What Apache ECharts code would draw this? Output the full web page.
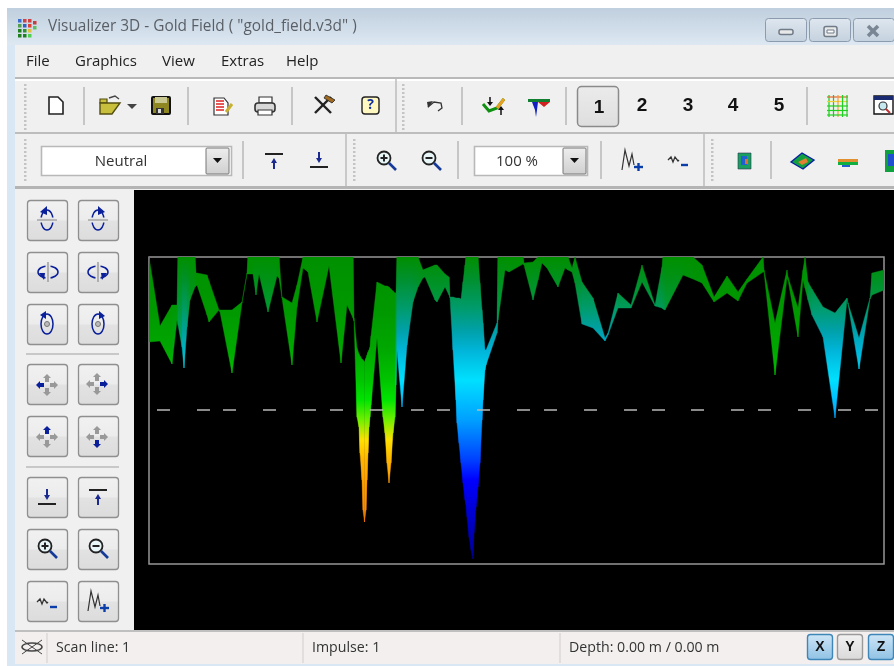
<!DOCTYPE html>
<html><head><meta charset="utf-8">
<style>html,body{margin:0;padding:0;background:#fff;overflow:hidden}#c{width:894px;height:666px}</style>
<script src="https://cdn.jsdelivr.net/npm/echarts@6/dist/echarts.min.js"></script>
</head><body><div id="c"></div>
<script>
// ---- chart data (trace position along the scan line, depth below the surface) ----
const traceX = [
0,11,23,28,29,33,35,38,41,46,
47,48,58,60,70,71,83,93,98,99,
104,107,110,119,128,130,133,143,148,154,
159,168,180,192,198,204,205,208,210,211,
213,214,215.5,217,218,219,220,221,222,228,
234,236,238,240,242,244,246,247,248,253,
258,264,269,274,276,286,288,296,300,301,
304,307,308,310,312,314,316,317,318,320,
322,324,325,327,329,331,333,334,336,337,
348,349,356,360,374,375,384,389,393,398,
409,416,419,423,426,433,444,456,459,469,
482,493,506,513,514,516,534,544,553,565,
578,589,598,614,615,626,638,639,649,654,
656,659,663,674,686,698,699,710,721,723,
735];
const upperDepth = [
0,69,48,48,0,0,0,0,0,0,
16,16,18,24,53,53,53,45,16,0,
0,0,0,0,0,0,40,46,28,0,
0,0,0,0,0,0,61,91,97,99,
102,103,105,101,98,95,93,90,79,25,
28,29,29,30,32,34,36,36,0,0,
0,0,0,13,12,8,8,17,20,40,
40,41,41,41,42,25,8,0,0,0,
0,0,0,0,0,26,53,66,93,93,
66,0,0,0,0,6,5,0,0,0,
0,0,0,11,0,25,41,81,76,36,
48,8,48,10,0,0,0,0,8,40,
19,35,22,0,13,66,13,20,51,13,
0,25,32,50,56,41,46,81,41,16,
13];
const lowerDepth = [
85,84,107,63,68,90,111,70,43,30,
29,28,58,65,53,55,116,46,17,17,
17,38,17,55,19,21,41,108,50,11,
15,65,9,106,48,61,64,160,170,196,
223,253,265,253,223,196,170,160,148,81,
160,176,206,226,206,176,160,128,93,150,
88,45,30,21,20,43,45,30,38,41,
93,143,166,186,206,226,243,248,260,280,
293,302,276,250,230,206,163,143,113,108,
76,63,13,15,7,8,43,23,6,11,
30,11,13,15,26,67,71,84,78,51,
51,25,49,51,52,53,18,22,26,45,
36,44,26,15,15,118,21,23,80,23,
31,43,58,80,161,43,47,112,42,38,
33];
const toneMix = [
0,0,0,.1,.3,.8,1,.8,.5,.2,
0,0,0,0,0,0,0,0,0,0,
.3,.7,.3,.6,.3,0,0,0,0,0,
0,0,0,0,0,0,0,0,0,0,
0,0,0,0,0,0,0,0,0,0,
0,0,0,0,0,0,0,.3,1,1,
1,1,.8,.7,.7,.7,.7,.7,.8,1,
1,1,1,1,1,1,1,1,1,1,
1,1,1,1,1,1,1,1,1,1,
1,.7,.5,.5,.5,.5,.7,.7,.6,.6,
.7,.6,.6,.6,.8,1,1,1,1,.9,
.8,.7,.8,.9,.7,.7,.3,.2,.1,0,
0,0,0,0,0,0,0,0,0,0,
.1,.7,1,1,1,1,1,1,1,.8,
.7];
const dashStarts = [8,48,74,114,154,181,221,262,288,328,368,395,435,475,503,542,582,609,649,689,716];
const dashLength = 13;
const dashDepth = 153;
const colorDepths = [0,23,53,73,93,123,143,163,183,203,223,263,303];
const warmRamp = ['#009000','#009400','#009800','#00a000','#00a800','#00c400','#00e400','#70f000','#ffe000','#ffb400','#ffa000','#ff8400','#ff8000'];
const coolRamp = ['#008f00','#009030','#009c70','#00a0a8','#00b4d8','#00e0ff','#00c0ff','#00a0ff','#0070ff','#0040ff','#0000ff','#0000c8','#000090'];
const menuItems = ['File','Graphics','View','Extras','Help'];
const scanNumbers = ['1','2','3','4','5'];

// ---- window chrome helpers ----
const UI = '"Open Sans","Noto Sans",sans-serif';
const els = [];
const grad = (a,b)=>({type:'linear',x:0,y:0,x2:0,y2:1,colorStops:[{offset:0,color:a},{offset:1,color:b}]});
function R(x,y,w,h,fill,stroke,r,lw){els.push({type:'rect',shape:{x,y,width:w,height:h,r:r||0},style:{fill:fill||'none',stroke:stroke||'none',lineWidth:lw||1}});}
function L(x1,y1,x2,y2,c,lw){els.push({type:'line',shape:{x1,y1,x2,y2},style:{stroke:c,lineWidth:lw||1}});}
function P(pts,fill,stroke,lw){els.push({type:'polygon',shape:{points:pts},style:{fill:fill||'none',stroke:stroke||'none',lineWidth:lw||1}});}
function PL(pts,c,lw){els.push({type:'polyline',shape:{points:pts},style:{stroke:c,lineWidth:lw||1,fill:'none'}});}
function C(cx,cy,r,fill,stroke,lw){els.push({type:'circle',shape:{cx,cy,r},style:{fill:fill||'none',stroke:stroke||'none',lineWidth:lw||1}});}
function E(cx,cy,rx,ry,stroke,lw){els.push({type:'ellipse',shape:{cx,cy,rx,ry},style:{fill:'none',stroke,lineWidth:lw||1.5}});}
function T(x,y,s,size,color,align,weight,font){els.push({type:'text',x,y,style:{text:s,fontSize:size,fill:color,align:align||'left',verticalAlign:'middle',fontWeight:weight||'normal',fontFamily:font||UI}});}
const navy='#0a1f9a', blue='#0b3ea8';

// background frame
R(7,8,887,37,grad('#c0cfde','#dde8f2'));
R(7,45,8,621,'#d9e7f5');
R(15,45,879,587,'#f0f0f0');
// title
[[18,19,'#3a6fd0'],[23,19,'#d04040'],[28,19,'#d04040'],[33,21,'#c04040'],[18,24,'#50a050'],[23,24,'#3060c0'],[28,24,'#e04030'],[33,26,'#60c060'],[18,29,'#208020'],[23,29,'#309030'],[28,29,'#e0c040'],[18,34,'#208020'],[23,34,'#208020'],[28,34,'#50d050']].forEach(d=>R(d[0],d[1],3.5,3.5,d[2]));
T(48,27,'Visualizer 3D - Gold Field ( "gold_field.v3d" )',15.4,'#5a5f66');
[[765,41],[809,41],[853,41]].forEach(b=>R(b[0]+.5,18.5,b[1],23,grad('#dfe7ef','#c4d1de'),'#8c9cae',3));
R(779,29.5,14,5,'#e8e8e8','#6f7b88',2,1.5);
R(824,26.5,13,10,'#e8e8e8','#6f7b88',2,1.5);
R(827,30,7,3,'#fff','#6f7b88',0,1);
PL([[868,26],[878,36]],'#7a8694',3.5);PL([[878,26],[868,36]],'#7a8694',3.5);
// menu
[26,75,162,221,286].forEach((x,i)=>T(x,62,menuItems[i],15,'#222'));
// toolbar frames
R(15,77,879,2,'#b9b9b9');R(15,79,879,2,'#fff');
R(15,132,879,2,'#bdbdbd');R(15,186,879,3,'#b4b4b4');
L(396,79,396,132,'#bdbdbd',1.5);L(346,134,346,186,'#bdbdbd',1.5);L(704,134,704,186,'#bdbdbd',1.5);
[[24,84,130],[402,84,130],[24,139,182],[353,139,182],[711,139,182]].forEach(g=>{for(let y=g[1];y<g[2];y+=4)R(g[0],y,2.5,2,'#c4c4c4');});
[84,188,292,462,566,807].forEach(x=>L(x,87,x,125,'#aaa',1.2));
[243,458,601,771].forEach(x=>L(x,141,x,179,'#aaa',1.2));
// toolbar 1 icons
P([[49,97],[58,97],[63,102],[63,114],[49,114]],'#fff','#222',1.6);
// open
R(100,99,7,4,'#c8bf3c','#544f10',0,1.2);
P([[100,103],[116,103],[120,103],[112,114],[100,114]],'#c8bf3c','#544f10',1.4);PL([[109,98],[115,96],[119,99]],'#444',1.4);
P([[127,104],[137,104],[132,109]],'#444');
// save
R(152,97,18,17,'#8e8620','#111',1,2);R(155,97,12,6,'#c8c890');R(156,108,8,6,'#333');R(158,109,3,4,'#ddd');
// report
P([[214,98],[224,98],[228,103],[228,115],[214,115]],'#fff','#333',1.2);[101,104,107,110].forEach(y=>L(216,y,224,y,'#e03030',1.6));L(226,112,232,104,'#c8b030',3);
// printer
R(259,97,13,6,'#fff','#333',0,1.2);R(255,103,20,9,'#d8d8d8','#333',3,1.6);R(258,110,14,5,'#fff','#333',0,1.2);
// tools
L(315,97,331,113,'#222',2.4);L(331,97,315,113,'#222',2.4);P([[326,95],[335,100],[332,103],[324,98]],'#a06a20','#222',.8);
// help
R(362,97,17,17,'#fff8c0','#222',3,1.4);T(370.5,105.5,'?',14,'#1030a0','center','bold');
// undo
PL([[428,107],[434,102],[441,103],[442,108],[438,111]],'#333',1.3);P([[427,102],[433,101],[428,108]],'#333');
// points
PL([[483,104],[489,111],[497,108],[504,99]],'#109010',3);PL([[497,108],[504,99]],'#e8a020',3);L(490,97,490,104,'#111',1.5);P([[487,102],[493,102],[490,106]],'#111');L(501,107,501,115,'#111',1.5);P([[498,110],[504,110],[501,106]],'#111');
// section
R(528,99,22,3,'#108030');P([[538,102],[550,102],[544,107]],'#d02020');P([[532,102],[538,102],[537,110],[536,117],[535,110]],'#1020c0');
// scan buttons
R(577.5,86.5,41,40,grad('#ebebeb','#dedede'),'#8a8a8a',4,1.5);
[599,642,688,733,779].forEach((x,i)=>T(x,i==0?108:106,scanNumbers[i],19,'#111','center','bold','"Liberation Sans",Arial,sans-serif'));
// grid icon
for(let i=0;i<5;i++){L(829+i*4.5,95,829+i*4.5,117,i<2?'#10d010':(i==2?'#f0a030':'#20d020'),1.2);L(827,97+i*4.5,848,97+i*4.5,i==0?'#f06030':(i==1?'#f0d030':'#20d020'),1.2);}
// window search icon
R(874,96,19,18,'#fff','#111',0,1.4);R(874,96,19,4,'#1a2a70');C(883,106,4,'#c8e8f0','#333',1.2);L(886,109,890,113,'#c03030',2);
// combos
function combo(x,w,label,tx,bx){R(x+.5,146.5,w,29,'#fff','#b8b8b8',0,1.6);R(bx,148,23,26,grad('#eeeeee','#cfcfcf'),'#777',1,1);P([[bx+7,158],[bx+16,158],[bx+11.5,163]],'#111');T(tx,162,label,15,'#333','center');}
combo(41,190,'Neutral',121,206);combo(474,113,'100 %',517,563);
// depth arrows
function topArrow(x,y){L(x-9,y-7,x+9,y-7,'#222',2);L(x,y+8,x,y,'#1a2a90',2);P([[x-3,y+2],[x+3,y+2],[x,y-3]],'#1a2a90');}
function botArrow(x,y){L(x-9,y+7,x+9,y+7,'#222',2);L(x,y-8,x,y-1,'#1a2a90',2);P([[x-3,y-2],[x+3,y-2],[x,y+3]],'#1a2a90');}
topArrow(274,161);botArrow(319,160);
function zoomIcon(x,y,plus){C(x-2,y-2,6.5,'#e8f6f8','#222',1.8);L(x+3,y+3,x+10,y+10,'#163a9a',2.6);L(x-5.5,y-2,x+1.5,y-2,'#222',2);if(plus)L(x-2,y-5.5,x-2,y+1.5,'#222',2);}
zoomIcon(386,160,true);zoomIcon(431,160,false);
function mPlus(x,y){PL([[x-9,y+9],[x-6,y-11],[x-2,y+5],[x+1,y-7],[x+3,y+4]],'#333',1.2);L(x+3,y+6,x+12,y+6,blue,2.4);L(x+7.5,y+2,x+7.5,y+10,blue,2.4);}
function mMinus(x,y){PL([[x-10,y],[x-7,y-3],[x-5,y+2],[x-3,y-3],[x,y+1],[x+1,y]],'#333',1.3);L(x+3,y+5,x+10,y+5,blue,2.4);}
mPlus(631,161);mMinus(678,160);
// small surface icons
R(738,153,13,16,'#18a060','#335',0,.6);R(741,156,6,9,'#2060d0');R(745,159,3,5,'#e07030');
P([[791,162],[802,153],[814,160],[803,169]],'#10a040','#0820a0',1.4);P([[798,162],[806,158],[808,162],[802,165]],'#e08030');
R(838,159,20,3,'#e09030');R(838,162,20,3,'#10b040');R(842,165,8,2,'#2060d0');
R(885,150,9,22,'#10a040');R(888,154,6,12,'#2050d0');

// left tool panel
const lc=[27,78], lr=[200,252,304,364,416,477,529,581];
function tool(x,y){R(x+.5,y+.5,40,40,{type:'linear',x:0,y:0,x2:0,y2:1,colorStops:[{offset:0,color:'#f1f1f1'},{offset:.48,color:'#ececec'},{offset:.52,color:'#e2e2e2'},{offset:1,color:'#dcdcdc'}]},'#8f8f8f',3,1.3);}
lr.forEach(y=>lc.forEach(x=>tool(x,y)));
L(26,354,119,354,'#bbb',1.5);L(26,467,119,467,'#bbb',1.5);
// rotations
function rotH(x,y,right){E(x,y,6,10,navy);R(x-8,y-2.5,16,5,'#e7e7e7');L(x-10,y,x+10,y,'#aaa',1.6);P(right?[[x,y-14],[x+7,y-8],[x,y-5]]:[[x-7,y-8],[x,y-14],[x,y-5]],navy);}
function rotV(x,y,right){E(x,y,10,6,navy);R(x-2.5,y-8,5,16,'#e7e7e7');L(x,y-10,x,y+10,'#aaa',1.8);P(right?[[x+9,y+1],[x+4,y+8],[x+3,y+1]]:[[x-9,y+1],[x-4,y+8],[x-3,y+1]],navy);}
function rotZ(x,y,right){E(x,y,6,10,navy);C(x,y,2.5,'#bbb','#777',1);P(right?[[x+1,y-13],[x+7,y-8],[x+1,y-5]]:[[x-7,y-9],[x-1,y-13],[x-1,y-5]],navy);}
rotH(47,220,false);rotH(98,220,true);rotV(48,272,false);rotV(98,272,true);rotZ(47,324,false);rotZ(98,324,true);
function pan(x,y,d){const g='#999';P([[x-2,y-3],[x+2,y-3],[x+2,y-7],[x+4,y-7],[x,y-11],[x-4,y-7],[x-2,y-7]],d=='u'?navy:g);P([[x-2,y+3],[x+2,y+3],[x+2,y+7],[x+4,y+7],[x,y+11],[x-4,y+7],[x-2,y+7]],d=='d'?navy:g);P([[x-3,y-2],[x-3,y+2],[x-7,y+2],[x-7,y+4],[x-11,y],[x-7,y-4],[x-7,y-2]],d=='l'?navy:g);P([[x+3,y-2],[x+3,y+2],[x+7,y+2],[x+7,y+4],[x+11,y],[x+7,y-4],[x+7,y-2]],d=='r'?navy:g);}
pan(47,385,'l');pan(97,384,'r');pan(47,437,'u');pan(97,437,'d');
botArrow(47,497);topArrow(98,497);zoomIcon(47,548,true);zoomIcon(98,548,false);mMinus(47,602);mPlus(97,602);

// status bar
R(15,630,879,2,'#bfbfbf');R(15,632,879,32,'#f3efef');R(15,664,879,2,'#d9e7f5');
[47,303,560].forEach(x=>L(x,633,x,663,'#dcd8d8',1.5));
E(32,647,10,4,'#444',1.5);L(22,640,42,654,'#444',1);L(22,654,42,640,'#444',1);
T(56,648,'Scan line: 1',14.2,'#333');T(312,648,'Impulse: 1',14.2,'#333');T(569,648,'Depth: 0.00 m / 0.00 m',14.2,'#333');
[[807,'X',1],[837,'Y',0],[868,'Z',1]].forEach(b=>{R(b[0]+.5,634.5,25,25,b[2]?grad('#cfe6f6','#8fc1e4'):grad('#f2f2f2','#d9d9d9'),b[2]?'#3f86b8':'#9a9a9a',3,1.4);T(b[0]+13,647.5,b[1],14,'#111','center','bold','"Liberation Sans",Arial,sans-serif');});
// viewport
R(134,190,760,440,'#000');

// ---- chart ----
const rows = traceX.map((x,i)=>[x,upperDepth[i],lowerDepth[i],toneMix[i]]);
const hex = c=>[1,3,5].map(i=>parseInt(c.substr(i,2),16));
const mix = (a,b,t)=>{const A=hex(a),B=hex(b);return 'rgb('+A.map((v,i)=>Math.round(v+(B[i]-v)*t)).join(',')+')';};
function renderBand(params,api){
  const i=params.dataIndex;
  if(i>=rows.length-1) return null;
  const a=rows[i], b=rows[i+1];
  const t=(a[3]+b[3])/2;
  const y0=api.coord([0,colorDepths[0]])[1], y1=api.coord([0,colorDepths[colorDepths.length-1]])[1];
  const fill={type:'linear',global:true,x:0,y:y0,x2:0,y2:y1,colorStops:colorDepths.map((d,k)=>({offset:d/colorDepths[colorDepths.length-1],color:mix(warmRamp[k],coolRamp[k],t)}))};
  return {type:'polygon',shape:{points:[api.coord([a[0],a[1]]),api.coord([b[0],b[1]]),api.coord([b[0],b[2]]),api.coord([a[0],a[2]])]},style:{fill:fill,stroke:fill,lineWidth:.4}};
}
function renderDash(params,api){
  const s=api.value(0);
  const p=api.coord([s,dashDepth]), q=api.coord([s+dashLength,dashDepth]);
  return {type:'line',shape:{x1:p[0],y1:p[1],x2:q[0],y2:q[1]},style:{stroke:'#b8b8b8',lineWidth:1.5}};
}
const chart = echarts.init(document.getElementById('c'),null,{renderer:'canvas'});
chart.setOption({
  animation:false,
  backgroundColor:'#fff',
  graphic:{z:0,elements:els.map(e=>Object.assign({silent:true,z:0},e))},
  grid:{left:149,top:257,width:735,height:307,show:true,z:1,backgroundColor:'transparent',borderColor:'#969696',borderWidth:1.5},
  xAxis:{type:'value',min:0,max:735,show:false},
  yAxis:{type:'value',min:0,max:307,inverse:true,show:false},
  series:[
    {type:'custom',z:3,silent:true,clip:true,data:rows,encode:{x:0,y:[1,2]},renderItem:renderBand},
    {type:'custom',z:4,silent:true,clip:true,data:dashStarts.map(s=>[s]),encode:{x:0},renderItem:renderDash}
  ]
});
</script></body></html>
